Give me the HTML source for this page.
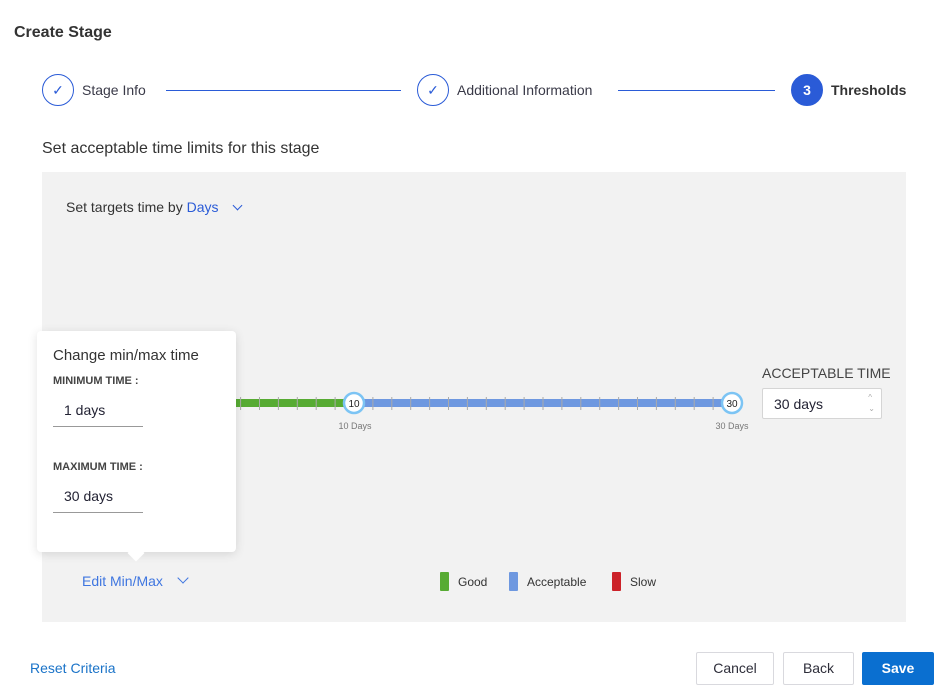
<!DOCTYPE html>
<html><head><meta charset="utf-8"><style>
*{box-sizing:border-box;margin:0;padding:0}
body{width:947px;height:699px;background:#fff;font-family:"Liberation Sans",sans-serif;color:#2e2e3a;position:relative;overflow:hidden}
.a{position:absolute;white-space:nowrap}
.circ{position:absolute;width:32px;height:32px;border-radius:50%;border:1px solid #2a5bd7;color:#2a5bd7;text-align:center;line-height:30px;font-size:14px}
.btn{position:absolute;top:652px;height:33px;border:1px solid #d9d9de;border-radius:2px;background:#fff;font-size:14px;text-align:center;line-height:31px;color:#2e2e3a}
</style></head><body>
<div class="a" style="left:14px;top:24px;font-size:16px;font-weight:bold;color:#333">Create Stage</div>

<div class="circ" style="left:42px;top:74px">✓</div>
<div class="a" style="left:82px;top:82px;font-size:14px;color:#3a3a48">Stage Info</div>
<div class="a" style="left:166px;top:90px;width:235px;height:1px;background:#2a5bd7"></div>
<div class="circ" style="left:417px;top:74px">✓</div>
<div class="a" style="left:457px;top:82px;font-size:14px;color:#3a3a48">Additional Information</div>
<div class="a" style="left:618px;top:90px;width:157px;height:1px;background:#2a5bd7"></div>
<div class="circ" style="left:791px;top:74px;background:#2a5bd7;color:#fff;font-weight:bold;font-size:14px">3</div>
<div class="a" style="left:831px;top:82px;font-size:14px;font-weight:bold;color:#333">Thresholds</div>

<div class="a" style="left:42px;top:140px;font-size:16px;color:#333">Set acceptable time limits for this stage</div>

<div class="a" style="left:42px;top:172px;width:864px;height:450px;background:#f2f2f2"></div>
<div class="a" style="left:66px;top:199px;font-size:14px;color:#333">Set targets time by <span style="color:#2a5bd7">Days</span></div>
<div class="a" style="left:234px;top:202px;width:7px;height:7px;border-right:1px solid #2a5bd7;border-bottom:1px solid #2a5bd7;transform:rotate(45deg)"></div>

<svg class="a" style="left:0;top:0" width="947" height="699">
<rect x="230" y="399" width="124" height="8" fill="#57ab33"/>
<rect x="354" y="399" width="378" height="8" fill="#6e98e0"/>
<g stroke="#aaa" stroke-width="1">
<line x1="240.6" y1="397" x2="240.6" y2="410"/><line x1="259.5" y1="397" x2="259.5" y2="410"/><line x1="278.4" y1="397" x2="278.4" y2="410"/><line x1="297.3" y1="397" x2="297.3" y2="410"/><line x1="316.2" y1="397" x2="316.2" y2="410"/><line x1="335.1" y1="397" x2="335.1" y2="410"/>
<line x1="372.9" y1="397" x2="372.9" y2="410"/><line x1="391.8" y1="397" x2="391.8" y2="410"/><line x1="410.7" y1="397" x2="410.7" y2="410"/><line x1="429.6" y1="397" x2="429.6" y2="410"/><line x1="448.5" y1="397" x2="448.5" y2="410"/><line x1="467.4" y1="397" x2="467.4" y2="410"/><line x1="486.3" y1="397" x2="486.3" y2="410"/><line x1="505.2" y1="397" x2="505.2" y2="410"/><line x1="524.1" y1="397" x2="524.1" y2="410"/><line x1="543" y1="397" x2="543" y2="410"/><line x1="561.9" y1="397" x2="561.9" y2="410"/><line x1="580.8" y1="397" x2="580.8" y2="410"/><line x1="599.7" y1="397" x2="599.7" y2="410"/><line x1="618.6" y1="397" x2="618.6" y2="410"/><line x1="637.5" y1="397" x2="637.5" y2="410"/><line x1="656.4" y1="397" x2="656.4" y2="410"/><line x1="675.3" y1="397" x2="675.3" y2="410"/><line x1="694.2" y1="397" x2="694.2" y2="410"/><line x1="713.1" y1="397" x2="713.1" y2="410"/>
</g>
<circle cx="354" cy="403" r="10" fill="#fff" stroke="#7cc4f4" stroke-width="2.5"/>
<text x="354" y="407" font-size="10" text-anchor="middle" fill="#222" font-family="Liberation Sans">10</text>
<circle cx="732" cy="403" r="10" fill="#fff" stroke="#7cc4f4" stroke-width="2.5"/>
<text x="732" y="407" font-size="10" text-anchor="middle" fill="#222" font-family="Liberation Sans">30</text>
<text x="355" y="429" font-size="9" text-anchor="middle" fill="#777" font-family="Liberation Sans">10 Days</text>
<text x="732" y="429" font-size="9" text-anchor="middle" fill="#777" font-family="Liberation Sans">30 Days</text>
</svg>

<div class="a" style="left:762px;top:365px;font-size:14px;color:#444">ACCEPTABLE TIME</div>
<div class="a" style="left:762px;top:388px;width:120px;height:31px;background:#fff;border:1px solid #d5d5d5;border-radius:2px;font-size:14px;padding:7px 11px;color:#223">30 days<span style="position:absolute;right:6px;top:3px;font-size:8px;color:#aaa;line-height:11px">^<br>⌄</span></div>

<div class="a" style="left:37px;top:331px;width:199px;height:221px;background:#fff;border-radius:4px;box-shadow:0 2px 10px rgba(0,0,0,.12)"></div>
<div class="a" style="left:130px;top:547px;width:12px;height:12px;background:#fff;transform:rotate(45deg)"></div>
<div class="a" style="left:53px;top:347px;font-size:15px;color:#333">Change min/max time</div>
<div class="a" style="left:53px;top:375px;font-size:11px;font-weight:bold;color:#444">MINIMUM TIME :</div>
<div class="a" style="left:64px;top:402px;font-size:14px;color:#223">1 days</div>
<div class="a" style="left:53px;top:426px;width:90px;height:1px;background:#999"></div>
<div class="a" style="left:53px;top:461px;font-size:11px;font-weight:bold;color:#444">MAXIMUM TIME :</div>
<div class="a" style="left:64px;top:488px;font-size:14px;color:#223">30 days</div>
<div class="a" style="left:53px;top:512px;width:90px;height:1px;background:#999"></div>

<div class="a" style="left:82px;top:573px;font-size:14px;color:#3f76e0">Edit Min/Max</div>
<div class="a" style="left:179px;top:574px;width:8px;height:8px;border-right:1px solid #3f76e0;border-bottom:1px solid #3f76e0;transform:rotate(45deg)"></div>

<div class="a" style="left:440px;top:572px;width:9px;height:19px;background:#57ab33;border-radius:1px"></div>
<div class="a" style="left:458px;top:575px;font-size:12px;color:#333">Good</div>
<div class="a" style="left:509px;top:572px;width:9px;height:19px;background:#6e98e0;border-radius:1px"></div>
<div class="a" style="left:527px;top:575px;font-size:12px;color:#333">Acceptable</div>
<div class="a" style="left:612px;top:572px;width:9px;height:19px;background:#cc2229;border-radius:1px"></div>
<div class="a" style="left:630px;top:575px;font-size:12px;color:#333">Slow</div>

<div class="a" style="left:30px;top:660px;font-size:14px;color:#1a73c8">Reset Criteria</div>
<div class="btn" style="left:696px;width:78px">Cancel</div>
<div class="btn" style="left:783px;width:71px">Back</div>
<div class="btn" style="left:862px;width:72px;background:#0a6fd0;border-color:#0a6fd0;color:#fff;font-weight:bold">Save</div>
</body></html>
